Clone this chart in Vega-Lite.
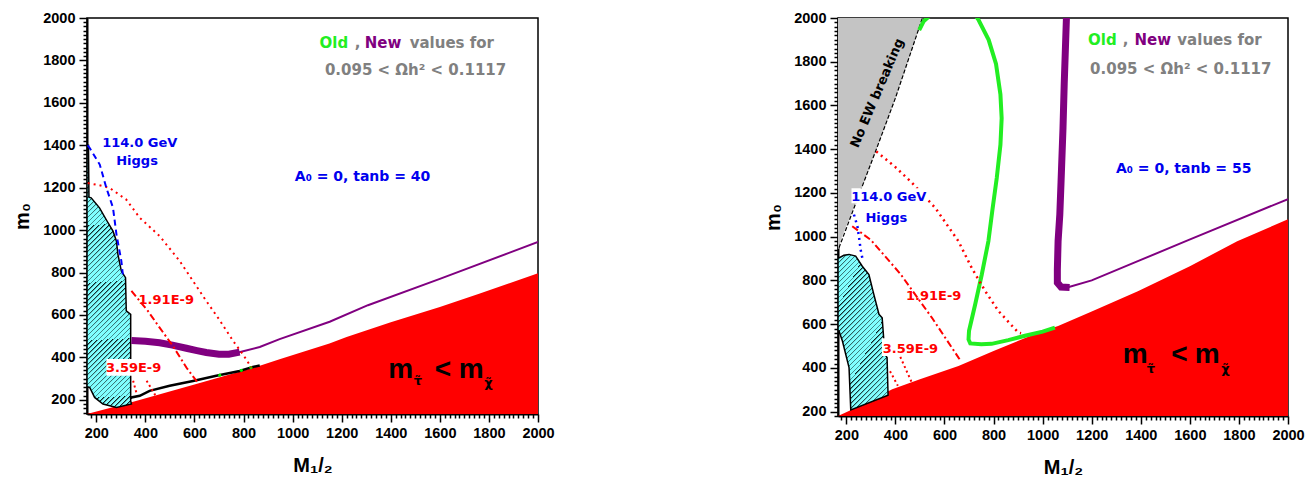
{
"$schema": "https://vega.github.io/schema/vega-lite/v6.json",
"background": "white",
"padding": {"left": 11, "top": 9, "right": 0, "bottom": 0},
"spacing": 207,
"config": {
 "view": {"stroke": "black", "strokeWidth": 1.5},
 "axis": {"grid": false, "labelFont": "Liberation Sans", "labelFontWeight": "bold", "labelFontSize": 14.5, "labelColor": "black", "domainColor": "black", "domainWidth": 2, "tickColor": "black", "tickWidth": 1.5, "labelOverlap": false, "labelFlush": false, "labelBound": false, "titleFont": "Liberation Sans", "titleFontWeight": "bold", "titleFontSize": 20, "titleColor": "black"}
},
"hconcat": [
{
 "width": 451, "height": 396,
 "encoding": {
  "x": {"field": "M", "type": "quantitative", "scale": {"domain": [162, 2000], "nice": false, "zero": false},
   "axis": {"title": "M₁/₂", "format": "d", "tickCount": 92, "labelExpr": "datum.value % 200 === 0 ? datum.label : ''", "tickSize": {"condition": {"test": "datum.value % 200 === 0", "value": 8}, "value": 4}, "labelPadding": 4, "titlePadding": 16}},
  "y": {"field": "m0", "type": "quantitative", "scale": {"domain": [133, 2000], "nice": false, "zero": false},
   "axis": {"title": "m₀", "format": "d", "tickCount": 93, "labelExpr": "datum.value % 200 === 0 ? datum.label : ''", "tickSize": {"condition": {"test": "datum.value % 200 === 0", "value": 8}, "value": 4}, "labelPadding": 4, "titlePadding": 10}}
 },
 "layer": [
  {"data": {"values": [{"M":162,"m0":133},{"M":336,"m0":186},{"M":600,"m0":272},{"M":866,"m0":360},{"M":950,"m0":392},{"M":1150,"m0":465},{"M":1220,"m0":496},{"M":1400,"m0":565},{"M":1600,"m0":638},{"M":1760,"m0":700},{"M":2000,"m0":796}]},
   "mark": {"type": "area", "color": "#ff0000", "clip": true}, "encoding": {"y2": {"datum": 0}}},
  {"data": {"values": [{"M":162,"m0":1400},{"M":168,"m0":1400},{"M":170,"m0":1155},{"M":179,"m0":1152},{"M":213,"m0":1105},{"M":240,"m0":1050},{"M":268,"m0":995},{"M":282,"m0":948},{"M":288,"m0":886},{"M":302,"m0":807},{"M":319,"m0":776},{"M":322,"m0":619},{"M":340,"m0":603},{"M":340,"m0":195},{"M":343,"m0":180},{"M":282,"m0":164},{"M":227,"m0":180},{"M":193,"m0":211},{"M":173,"m0":258},{"M":162,"m0":262}]},
   "mark": {"type": "line", "interpolate": "linear-closed", "stroke": "black", "strokeWidth": 1.5, "clip": true,
    "fill": {"gradient": "linear", "x1": 0, "y1": 0, "x2": 0.19, "y2": 1.14, "stops": [
{"offset":0,"color":"#80ffff"},{"offset":0.01,"color":"#80ffff"},{"offset":0.01,"color":"#0a1a1a"},
{"offset":0.016,"color":"#80ffff"},{"offset":0.026,"color":"#80ffff"},{"offset":0.026,"color":"#0a1a1a"},
{"offset":0.032,"color":"#80ffff"},{"offset":0.042,"color":"#80ffff"},{"offset":0.042,"color":"#0a1a1a"},
{"offset":0.048,"color":"#80ffff"},{"offset":0.058,"color":"#80ffff"},{"offset":0.058,"color":"#0a1a1a"},
{"offset":0.064,"color":"#80ffff"},{"offset":0.074,"color":"#80ffff"},{"offset":0.074,"color":"#0a1a1a"},
{"offset":0.08,"color":"#80ffff"},{"offset":0.09,"color":"#80ffff"},{"offset":0.09,"color":"#0a1a1a"},
{"offset":0.096,"color":"#80ffff"},{"offset":0.106,"color":"#80ffff"},{"offset":0.106,"color":"#0a1a1a"},
{"offset":0.112,"color":"#80ffff"},{"offset":0.122,"color":"#80ffff"},{"offset":0.122,"color":"#0a1a1a"},
{"offset":0.128,"color":"#80ffff"},{"offset":0.138,"color":"#80ffff"},{"offset":0.138,"color":"#0a1a1a"},
{"offset":0.144,"color":"#80ffff"},{"offset":0.154,"color":"#80ffff"},{"offset":0.154,"color":"#0a1a1a"},
{"offset":0.16,"color":"#80ffff"},{"offset":0.17,"color":"#80ffff"},{"offset":0.17,"color":"#0a1a1a"},
{"offset":0.176,"color":"#80ffff"},{"offset":0.186,"color":"#80ffff"},{"offset":0.186,"color":"#0a1a1a"},
{"offset":0.192,"color":"#80ffff"},{"offset":0.202,"color":"#80ffff"},{"offset":0.202,"color":"#0a1a1a"},
{"offset":0.208,"color":"#80ffff"},{"offset":0.218,"color":"#80ffff"},{"offset":0.218,"color":"#0a1a1a"},
{"offset":0.224,"color":"#80ffff"},{"offset":0.234,"color":"#80ffff"},{"offset":0.234,"color":"#0a1a1a"},
{"offset":0.24,"color":"#80ffff"},{"offset":0.25,"color":"#80ffff"},{"offset":0.25,"color":"#0a1a1a"},
{"offset":0.256,"color":"#80ffff"},{"offset":0.266,"color":"#80ffff"},{"offset":0.266,"color":"#0a1a1a"},
{"offset":0.272,"color":"#80ffff"},{"offset":0.282,"color":"#80ffff"},{"offset":0.282,"color":"#0a1a1a"},
{"offset":0.288,"color":"#80ffff"},{"offset":0.298,"color":"#80ffff"},{"offset":0.298,"color":"#0a1a1a"},
{"offset":0.304,"color":"#80ffff"},{"offset":0.314,"color":"#80ffff"},{"offset":0.314,"color":"#0a1a1a"},
{"offset":0.32,"color":"#80ffff"},{"offset":0.33,"color":"#80ffff"},{"offset":0.33,"color":"#0a1a1a"},
{"offset":0.336,"color":"#80ffff"},{"offset":0.346,"color":"#80ffff"},{"offset":0.346,"color":"#0a1a1a"},
{"offset":0.352,"color":"#80ffff"},{"offset":0.362,"color":"#80ffff"},{"offset":0.362,"color":"#0a1a1a"},
{"offset":0.368,"color":"#80ffff"},{"offset":0.378,"color":"#80ffff"},{"offset":0.378,"color":"#0a1a1a"},
{"offset":0.384,"color":"#80ffff"},{"offset":0.394,"color":"#80ffff"},{"offset":0.394,"color":"#0a1a1a"},
{"offset":0.4,"color":"#80ffff"},{"offset":0.41,"color":"#80ffff"},{"offset":0.41,"color":"#0a1a1a"},
{"offset":0.416,"color":"#80ffff"},{"offset":0.426,"color":"#80ffff"},{"offset":0.426,"color":"#0a1a1a"},
{"offset":0.432,"color":"#80ffff"},{"offset":0.442,"color":"#80ffff"},{"offset":0.442,"color":"#0a1a1a"},
{"offset":0.448,"color":"#80ffff"},{"offset":0.458,"color":"#80ffff"},{"offset":0.458,"color":"#0a1a1a"},
{"offset":0.464,"color":"#80ffff"},{"offset":0.474,"color":"#80ffff"},{"offset":0.474,"color":"#0a1a1a"},
{"offset":0.48,"color":"#80ffff"},{"offset":0.49,"color":"#80ffff"},{"offset":0.49,"color":"#0a1a1a"},
{"offset":0.496,"color":"#80ffff"},{"offset":0.506,"color":"#80ffff"},{"offset":0.506,"color":"#0a1a1a"},
{"offset":0.512,"color":"#80ffff"},{"offset":0.522,"color":"#80ffff"},{"offset":0.522,"color":"#0a1a1a"},
{"offset":0.528,"color":"#80ffff"},{"offset":0.538,"color":"#80ffff"},{"offset":0.538,"color":"#0a1a1a"},
{"offset":0.544,"color":"#80ffff"},{"offset":0.554,"color":"#80ffff"},{"offset":0.554,"color":"#0a1a1a"},
{"offset":0.56,"color":"#80ffff"},{"offset":0.57,"color":"#80ffff"},{"offset":0.57,"color":"#0a1a1a"},
{"offset":0.576,"color":"#80ffff"},{"offset":0.586,"color":"#80ffff"},{"offset":0.586,"color":"#0a1a1a"},
{"offset":0.592,"color":"#80ffff"},{"offset":0.602,"color":"#80ffff"},{"offset":0.602,"color":"#0a1a1a"},
{"offset":0.608,"color":"#80ffff"},{"offset":0.618,"color":"#80ffff"},{"offset":0.618,"color":"#0a1a1a"},
{"offset":0.624,"color":"#80ffff"},{"offset":0.634,"color":"#80ffff"},{"offset":0.634,"color":"#0a1a1a"},
{"offset":0.64,"color":"#80ffff"},{"offset":0.65,"color":"#80ffff"},{"offset":0.65,"color":"#0a1a1a"},
{"offset":0.656,"color":"#80ffff"},{"offset":0.666,"color":"#80ffff"},{"offset":0.666,"color":"#0a1a1a"},
{"offset":0.672,"color":"#80ffff"},{"offset":0.682,"color":"#80ffff"},{"offset":0.682,"color":"#0a1a1a"},
{"offset":0.688,"color":"#80ffff"},{"offset":0.698,"color":"#80ffff"},{"offset":0.698,"color":"#0a1a1a"},
{"offset":0.704,"color":"#80ffff"},{"offset":0.714,"color":"#80ffff"},{"offset":0.714,"color":"#0a1a1a"},
{"offset":0.72,"color":"#80ffff"},{"offset":0.73,"color":"#80ffff"},{"offset":0.73,"color":"#0a1a1a"},
{"offset":0.736,"color":"#80ffff"},{"offset":0.746,"color":"#80ffff"},{"offset":0.746,"color":"#0a1a1a"},
{"offset":0.752,"color":"#80ffff"},{"offset":0.762,"color":"#80ffff"},{"offset":0.762,"color":"#0a1a1a"},
{"offset":0.768,"color":"#80ffff"},{"offset":0.778,"color":"#80ffff"},{"offset":0.778,"color":"#0a1a1a"},
{"offset":0.784,"color":"#80ffff"},{"offset":0.794,"color":"#80ffff"},{"offset":0.794,"color":"#0a1a1a"},
{"offset":0.8,"color":"#80ffff"},{"offset":0.81,"color":"#80ffff"},{"offset":0.81,"color":"#0a1a1a"},
{"offset":0.816,"color":"#80ffff"},{"offset":0.826,"color":"#80ffff"},{"offset":0.826,"color":"#0a1a1a"},
{"offset":0.832,"color":"#80ffff"},{"offset":0.842,"color":"#80ffff"},{"offset":0.842,"color":"#0a1a1a"},
{"offset":0.848,"color":"#80ffff"},{"offset":0.858,"color":"#80ffff"},{"offset":0.858,"color":"#0a1a1a"},
{"offset":0.864,"color":"#80ffff"},{"offset":0.874,"color":"#80ffff"},{"offset":0.874,"color":"#0a1a1a"},
{"offset":0.88,"color":"#80ffff"},{"offset":0.89,"color":"#80ffff"},{"offset":0.89,"color":"#0a1a1a"},
{"offset":0.896,"color":"#80ffff"},{"offset":0.906,"color":"#80ffff"},{"offset":0.906,"color":"#0a1a1a"},
{"offset":0.912,"color":"#80ffff"},{"offset":0.922,"color":"#80ffff"},{"offset":0.922,"color":"#0a1a1a"},
{"offset":0.928,"color":"#80ffff"},{"offset":0.938,"color":"#80ffff"},{"offset":0.938,"color":"#0a1a1a"},
{"offset":0.944,"color":"#80ffff"},{"offset":0.954,"color":"#80ffff"},{"offset":0.954,"color":"#0a1a1a"},
{"offset":0.96,"color":"#80ffff"},{"offset":0.97,"color":"#80ffff"},{"offset":0.97,"color":"#0a1a1a"},
{"offset":0.976,"color":"#80ffff"},{"offset":0.986,"color":"#80ffff"},{"offset":0.986,"color":"#0a1a1a"},
{"offset":0.992,"color":"#80ffff"},{"offset":1,"color":"#80ffff"}
    ]}},
   "encoding": {"order": {"value": null}}},
  {"data": {"values": [{"M":340,"m0":205},{"M":343,"m0":211},{"M":377,"m0":219},{"M":417,"m0":242},{"M":499,"m0":266},{"M":594,"m0":289},{"M":689,"m0":313},{"M":784,"m0":336},{"M":838,"m0":355},{"M":866,"m0":362}]},
   "mark": {"type": "line", "color": "black", "strokeWidth": 2.5, "clip": true}},
  {"data": {"values": [{"M":703,"m0":316},{"M":791,"m0":339},{"M":830,"m0":352}]},
   "mark": {"type": "point", "filled": true, "color": "#00ee00", "size": 10, "opacity": 1}},
  {"data": {"values": [{"M":343,"m0":480},{"M":400,"m0":476},{"M":458,"m0":469},{"M":510,"m0":458},{"M":567,"m0":443},{"M":610,"m0":432},{"M":648,"m0":423},{"M":700,"m0":415},{"M":740,"m0":415},{"M":784,"m0":425}]},
   "mark": {"type": "line", "color": "#800080", "strokeWidth": 7, "clip": true}},
  {"data": {"values": [{"M":770,"m0":421},{"M":866,"m0":449},{"M":947,"m0":486},{"M":1151,"m0":568},{"M":1307,"m0":646},{"M":1600,"m0":770},{"M":2000,"m0":944}]},
   "mark": {"type": "line", "color": "#800080", "strokeWidth": 2, "clip": true}},
  {"data": {"values": [{"M":165,"m0":1222},{"M":210,"m0":1212},{"M":254,"m0":1199},{"M":322,"m0":1144},{"M":377,"m0":1058},{"M":458,"m0":972},{"M":540,"m0":854},{"M":648,"m0":666},{"M":700,"m0":580},{"M":757,"m0":478},{"M":800,"m0":410},{"M":832,"m0":352}]},
   "mark": {"type": "line", "color": "#ff0000", "strokeWidth": 2, "strokeDash": [2, 4], "clip": true}},
  {"data": {"values": [{"M":343,"m0":713},{"M":410,"m0":619},{"M":458,"m0":540},{"M":512,"m0":454},{"M":567,"m0":352},{"M":608,"m0":289},{"M":620,"m0":275}]},
   "mark": {"type": "line", "color": "#ff0000", "strokeWidth": 2, "strokeDash": [7, 3, 2, 3], "clip": true}},
  {"data": {"values": [{"seg":"a","M":350,"m0":290},{"seg":"a","M":365,"m0":225},{"seg":"b","M":405,"m0":290},{"seg":"b","M":440,"m0":222}]},
   "mark": {"type": "line", "color": "#ff0000", "strokeWidth": 2, "strokeDash": [2, 3], "clip": true},
   "encoding": {"detail": {"field": "seg"}}},
  {"data": {"values": [{"M":165,"m0":1400},{"M":173,"m0":1387},{"M":214,"m0":1309},{"M":241,"m0":1199},{"M":268,"m0":1105},{"M":282,"m0":980},{"M":302,"m0":854},{"M":308,"m0":791}]},
   "mark": {"type": "line", "color": "#0000ff", "strokeWidth": 2, "strokeDash": [6, 4], "clip": true}},
  {"data": {"values": [{"M":241,"M2":458,"m0":313,"m02":392}]},
   "mark": {"type": "rect", "color": "white"},
   "encoding": {"x2": {"field": "M2"}, "y2": {"field": "m02"}}},
  {"data": {"values": [{"M":1110,"m0":1858,"t":"Old"}]},
   "mark": {"type": "text", "align": "left", "baseline": "alphabetic", "font": "DejaVu Sans", "fontWeight": "bold", "fontSize": 15, "color": "#22ee22"},
   "encoding": {"text": {"field": "t"}}},
  {"data": {"values": [{"M":1294,"m0":1858,"t":"New"}]},
   "mark": {"type": "text", "align": "left", "baseline": "alphabetic", "font": "DejaVu Sans", "fontWeight": "bold", "fontSize": 15, "color": "#800080"},
   "encoding": {"text": {"field": "t"}}},
  {"data": {"values": [{"M":1253,"m0":1858,"t":","},{"M":1477,"m0":1858,"t":"values for"}]},
   "mark": {"type": "text", "align": "left", "baseline": "alphabetic", "font": "DejaVu Sans", "fontWeight": "bold", "fontSize": 15, "color": "#808080"},
   "encoding": {"text": {"field": "t"}}},
  {"data": {"values": [{"M":1501,"m0":1729,"t":"0.095 <  Ωh² < 0.1117"}]},
   "mark": {"type": "text", "align": "center", "baseline": "alphabetic", "font": "DejaVu Sans", "fontWeight": "bold", "fontSize": 15, "color": "#808080"},
   "encoding": {"text": {"field": "t"}}},
  {"data": {"values": [{"M":1285,"m0":1231,"t":"A₀ = 0, tanb = 40"}]},
   "mark": {"type": "text", "align": "center", "baseline": "alphabetic", "font": "DejaVu Sans", "fontWeight": "bold", "fontSize": 14, "color": "#0000ee"},
   "encoding": {"text": {"field": "t"}}},
  {"data": {"values": [{"M":377,"m0":1392,"t":"114.0 GeV"},{"M":366,"m0":1306,"t":"Higgs"}]},
   "mark": {"type": "text", "align": "center", "baseline": "alphabetic", "font": "DejaVu Sans", "fontWeight": "bold", "fontSize": 13, "color": "#0000ee"},
   "encoding": {"text": {"field": "t"}}},
  {"data": {"values": [{"M":485,"m0":650,"t":"1.91E-9"},{"M":352,"m0":332,"t":"3.59E-9"}]},
   "mark": {"type": "text", "align": "center", "baseline": "alphabetic", "font": "DejaVu Sans", "fontWeight": "bold", "fontSize": 13, "color": "#ff0000"},
   "encoding": {"text": {"field": "t"}}},
  {"data": {"values": [{"M":1440,"m0":305,"t":"m"},{"M":1613,"m0":305,"t":"<"},{"M":1728,"m0":305,"t":"m"}]},
   "mark": {"type": "text", "align": "center", "baseline": "alphabetic", "font": "Liberation Sans", "fontWeight": "bold", "fontSize": 28, "color": "black"},
   "encoding": {"text": {"field": "t"}}},
  {"data": {"values": [{"M":1510,"m0":268,"t":"τ̃"},{"M":1798,"m0":262,"t":"χ̃"}]},
   "mark": {"type": "text", "align": "center", "baseline": "alphabetic", "font": "DejaVu Sans", "fontWeight": "bold", "fontSize": 13, "color": "black"},
   "encoding": {"text": {"field": "t"}}}
 ]
},
{
 "width": 450, "height": 398,
 "encoding": {
  "x": {"field": "M", "type": "quantitative", "scale": {"domain": [166, 2000], "nice": false, "zero": false},
   "axis": {"title": "M₁/₂", "format": "d", "tickCount": 92, "labelExpr": "datum.value % 200 === 0 ? datum.label : ''", "tickSize": {"condition": {"test": "datum.value % 200 === 0", "value": 8}, "value": 4}, "labelPadding": 4, "titlePadding": 16}},
  "y": {"field": "m0", "type": "quantitative", "scale": {"domain": [180, 2000], "nice": false, "zero": false},
   "axis": {"title": "m₀", "format": "d", "tickCount": 91, "labelExpr": "datum.value % 200 === 0 ? datum.label : ''", "tickSize": {"condition": {"test": "datum.value % 200 === 0", "value": 8}, "value": 4}, "labelPadding": 4, "titlePadding": 10}}
 },
 "layer": [
  {"data": {"values": [{"M":166,"m0":180},{"M":250,"m0":224},{"M":387,"m0":302},{"M":500,"m0":348},{"M":657,"m0":409},{"M":800,"m0":477},{"M":981,"m0":561},{"M":1063,"m0":591},{"M":1200,"m0":658},{"M":1388,"m0":751},{"M":1600,"m0":865},{"M":1793,"m0":979},{"M":2000,"m0":1080}]},
   "mark": {"type": "area", "color": "#ff0000", "clip": true}, "encoding": {"y2": {"datum": 0}}},
  {"data": {"values": [{"M":166,"m0":2000},{"M":510,"m0":2000},{"M":400,"m0":1634},{"M":319,"m0":1390},{"M":252,"m0":1193},{"M":177,"m0":987},{"M":170,"m0":949},{"M":166,"m0":945}]},
   "mark": {"type": "line", "interpolate": "linear-closed", "fill": "#c4c4c4", "stroke": "#c4c4c4", "strokeWidth": 0.5, "clip": true},
   "encoding": {"order": {"value": null}}},
  {"data": {"values": [{"M":170,"m0":949},{"M":252,"m0":1193},{"M":319,"m0":1390},{"M":400,"m0":1634},{"M":510,"m0":2000}]},
   "mark": {"type": "line", "color": "black", "strokeWidth": 1.2, "strokeDash": [4, 2], "clip": true}},
  {"data": {"values": [{"M":166,"m0":905},{"M":170,"m0":903},{"M":190,"m0":915},{"M":211,"m0":919},{"M":238,"m0":911},{"M":265,"m0":865},{"M":292,"m0":827},{"M":312,"m0":736},{"M":333,"m0":645},{"M":346,"m0":629},{"M":357,"m0":462},{"M":366,"m0":447},{"M":370,"m0":275},{"M":218,"m0":208},{"M":211,"m0":401},{"M":184,"m0":523},{"M":170,"m0":569},{"M":166,"m0":569}]},
   "mark": {"type": "line", "interpolate": "linear-closed", "stroke": "black", "strokeWidth": 1.5, "clip": true,
    "fill": {"gradient": "linear", "x1": 0, "y1": 0, "x2": 0.39, "y2": 1.2, "stops": [
{"offset":0,"color":"#80ffff"},{"offset":0.015,"color":"#80ffff"},{"offset":0.015,"color":"#0a1a1a"},
{"offset":0.024,"color":"#80ffff"},{"offset":0.039,"color":"#80ffff"},{"offset":0.039,"color":"#0a1a1a"},
{"offset":0.048,"color":"#80ffff"},{"offset":0.063,"color":"#80ffff"},{"offset":0.063,"color":"#0a1a1a"},
{"offset":0.072,"color":"#80ffff"},{"offset":0.087,"color":"#80ffff"},{"offset":0.087,"color":"#0a1a1a"},
{"offset":0.096,"color":"#80ffff"},{"offset":0.111,"color":"#80ffff"},{"offset":0.111,"color":"#0a1a1a"},
{"offset":0.12,"color":"#80ffff"},{"offset":0.135,"color":"#80ffff"},{"offset":0.135,"color":"#0a1a1a"},
{"offset":0.144,"color":"#80ffff"},{"offset":0.159,"color":"#80ffff"},{"offset":0.159,"color":"#0a1a1a"},
{"offset":0.168,"color":"#80ffff"},{"offset":0.183,"color":"#80ffff"},{"offset":0.183,"color":"#0a1a1a"},
{"offset":0.192,"color":"#80ffff"},{"offset":0.207,"color":"#80ffff"},{"offset":0.207,"color":"#0a1a1a"},
{"offset":0.216,"color":"#80ffff"},{"offset":0.231,"color":"#80ffff"},{"offset":0.231,"color":"#0a1a1a"},
{"offset":0.24,"color":"#80ffff"},{"offset":0.255,"color":"#80ffff"},{"offset":0.255,"color":"#0a1a1a"},
{"offset":0.264,"color":"#80ffff"},{"offset":0.279,"color":"#80ffff"},{"offset":0.279,"color":"#0a1a1a"},
{"offset":0.288,"color":"#80ffff"},{"offset":0.303,"color":"#80ffff"},{"offset":0.303,"color":"#0a1a1a"},
{"offset":0.312,"color":"#80ffff"},{"offset":0.327,"color":"#80ffff"},{"offset":0.327,"color":"#0a1a1a"},
{"offset":0.336,"color":"#80ffff"},{"offset":0.351,"color":"#80ffff"},{"offset":0.351,"color":"#0a1a1a"},
{"offset":0.36,"color":"#80ffff"},{"offset":0.375,"color":"#80ffff"},{"offset":0.375,"color":"#0a1a1a"},
{"offset":0.384,"color":"#80ffff"},{"offset":0.399,"color":"#80ffff"},{"offset":0.399,"color":"#0a1a1a"},
{"offset":0.408,"color":"#80ffff"},{"offset":0.423,"color":"#80ffff"},{"offset":0.423,"color":"#0a1a1a"},
{"offset":0.432,"color":"#80ffff"},{"offset":0.447,"color":"#80ffff"},{"offset":0.447,"color":"#0a1a1a"},
{"offset":0.456,"color":"#80ffff"},{"offset":0.471,"color":"#80ffff"},{"offset":0.471,"color":"#0a1a1a"},
{"offset":0.48,"color":"#80ffff"},{"offset":0.495,"color":"#80ffff"},{"offset":0.495,"color":"#0a1a1a"},
{"offset":0.504,"color":"#80ffff"},{"offset":0.519,"color":"#80ffff"},{"offset":0.519,"color":"#0a1a1a"},
{"offset":0.528,"color":"#80ffff"},{"offset":0.543,"color":"#80ffff"},{"offset":0.543,"color":"#0a1a1a"},
{"offset":0.552,"color":"#80ffff"},{"offset":0.567,"color":"#80ffff"},{"offset":0.567,"color":"#0a1a1a"},
{"offset":0.576,"color":"#80ffff"},{"offset":0.591,"color":"#80ffff"},{"offset":0.591,"color":"#0a1a1a"},
{"offset":0.6,"color":"#80ffff"},{"offset":0.615,"color":"#80ffff"},{"offset":0.615,"color":"#0a1a1a"},
{"offset":0.624,"color":"#80ffff"},{"offset":0.639,"color":"#80ffff"},{"offset":0.639,"color":"#0a1a1a"},
{"offset":0.648,"color":"#80ffff"},{"offset":0.663,"color":"#80ffff"},{"offset":0.663,"color":"#0a1a1a"},
{"offset":0.672,"color":"#80ffff"},{"offset":0.687,"color":"#80ffff"},{"offset":0.687,"color":"#0a1a1a"},
{"offset":0.696,"color":"#80ffff"},{"offset":0.711,"color":"#80ffff"},{"offset":0.711,"color":"#0a1a1a"},
{"offset":0.72,"color":"#80ffff"},{"offset":0.735,"color":"#80ffff"},{"offset":0.735,"color":"#0a1a1a"},
{"offset":0.744,"color":"#80ffff"},{"offset":0.759,"color":"#80ffff"},{"offset":0.759,"color":"#0a1a1a"},
{"offset":0.768,"color":"#80ffff"},{"offset":0.783,"color":"#80ffff"},{"offset":0.783,"color":"#0a1a1a"},
{"offset":0.792,"color":"#80ffff"},{"offset":0.807,"color":"#80ffff"},{"offset":0.807,"color":"#0a1a1a"},
{"offset":0.816,"color":"#80ffff"},{"offset":0.831,"color":"#80ffff"},{"offset":0.831,"color":"#0a1a1a"},
{"offset":0.84,"color":"#80ffff"},{"offset":0.855,"color":"#80ffff"},{"offset":0.855,"color":"#0a1a1a"},
{"offset":0.864,"color":"#80ffff"},{"offset":0.879,"color":"#80ffff"},{"offset":0.879,"color":"#0a1a1a"},
{"offset":0.888,"color":"#80ffff"},{"offset":0.903,"color":"#80ffff"},{"offset":0.903,"color":"#0a1a1a"},
{"offset":0.912,"color":"#80ffff"},{"offset":0.927,"color":"#80ffff"},{"offset":0.927,"color":"#0a1a1a"},
{"offset":0.936,"color":"#80ffff"},{"offset":0.951,"color":"#80ffff"},{"offset":0.951,"color":"#0a1a1a"},
{"offset":0.96,"color":"#80ffff"},{"offset":0.975,"color":"#80ffff"},{"offset":0.975,"color":"#0a1a1a"},
{"offset":0.984,"color":"#80ffff"},{"offset":1,"color":"#80ffff"}
    ]}},
   "encoding": {"order": {"value": null}}},
  {"data": {"values": [{"M":497,"m0":1945},{"M":515,"m0":1985},{"M":540,"m0":2010},{"M":640,"m0":2100},{"M":720,"m0":2020},{"M":738,"m0":1993},{"M":780,"m0":1900},{"M":810,"m0":1790},{"M":828,"m0":1650},{"M":833,"m0":1542},{"M":828,"m0":1420},{"M":813,"m0":1268},{"M":795,"m0":1120},{"M":779,"m0":980},{"M":752,"m0":827},{"M":725,"m0":690},{"M":700,"m0":570},{"M":698,"m0":530},{"M":705,"m0":512},{"M":750,"m0":508},{"M":792,"m0":510},{"M":860,"m0":527},{"M":928,"m0":547},{"M":1000,"m0":566},{"M":1050,"m0":584}]},
   "mark": {"type": "line", "color": "#22ee22", "strokeWidth": 4, "clip": true},
   "encoding": {"order": {"value": null}}},
  {"data": {"values": [{"M":1097,"m0":2000},{"M":1088,"m0":1700},{"M":1083,"m0":1497},{"M":1075,"m0":1250},{"M":1070,"m0":1101},{"M":1063,"m0":979},{"M":1060,"m0":850},{"M":1060,"m0":790},{"M":1075,"m0":770},{"M":1110,"m0":768}]},
   "mark": {"type": "line", "color": "#800080", "strokeWidth": 7, "clip": true},
   "encoding": {"order": {"value": null}}},
  {"data": {"values": [{"M":1100,"m0":768},{"M":1200,"m0":800},{"M":1388,"m0":888},{"M":1591,"m0":983},{"M":2000,"m0":1172}]},
   "mark": {"type": "line", "color": "#800080", "strokeWidth": 2, "clip": true}},
  {"data": {"values": [{"M":322,"m0":1390},{"M":400,"m0":1318},{"M":468,"m0":1246},{"M":563,"m0":1131},{"M":657,"m0":979},{"M":711,"m0":857},{"M":766,"m0":751},{"M":820,"m0":660},{"M":901,"m0":561},{"M":912,"m0":558}]},
   "mark": {"type": "line", "color": "#ff0000", "strokeWidth": 2.5, "strokeDash": [2, 4], "clip": true},
   "encoding": {"order": {"value": null}}},
  {"data": {"values": [{"M":224,"m0":1048},{"M":300,"m0":985},{"M":420,"m0":830},{"M":549,"m0":629},{"M":657,"m0":447},{"M":668,"m0":430}]},
   "mark": {"type": "line", "color": "#ff0000", "strokeWidth": 2, "strokeDash": [7, 3, 2, 3], "clip": true}},
  {"data": {"values": [{"seg":"a","M":378,"m0":385},{"seg":"a","M":410,"m0":318},{"seg":"b","M":420,"m0":450},{"seg":"b","M":468,"m0":330}]},
   "mark": {"type": "line", "color": "#ff0000", "strokeWidth": 2, "strokeDash": [2, 3], "clip": true},
   "encoding": {"detail": {"field": "seg"}}},
  {"data": {"values": [{"M":231,"m0":1101},{"M":245,"m0":1048},{"M":252,"m0":995},{"M":258,"m0":942},{"M":265,"m0":903}]},
   "mark": {"type": "line", "color": "#0000ff", "strokeWidth": 2.5, "strokeDash": [2, 4], "clip": true}},
  {"data": {"values": [{"M":221,"M2":529,"m0":1153,"m02":1221},{"M":345,"M2":576,"m0":454,"m02":536}]},
   "mark": {"type": "rect", "color": "white"},
   "encoding": {"x2": {"field": "M2"}, "y2": {"field": "m02"}}},
  {"data": {"values": [{"M":1185,"m0":1877,"t":"Old"}]},
   "mark": {"type": "text", "align": "left", "baseline": "alphabetic", "font": "DejaVu Sans", "fontWeight": "bold", "fontSize": 15, "color": "#22ee22"},
   "encoding": {"text": {"field": "t"}}},
  {"data": {"values": [{"M":1374,"m0":1877,"t":"New"}]},
   "mark": {"type": "text", "align": "left", "baseline": "alphabetic", "font": "DejaVu Sans", "fontWeight": "bold", "fontSize": 15, "color": "#800080"},
   "encoding": {"text": {"field": "t"}}},
  {"data": {"values": [{"M":1327,"m0":1877,"t":","},{"M":1549,"m0":1877,"t":"values for"}]},
   "mark": {"type": "text", "align": "left", "baseline": "alphabetic", "font": "DejaVu Sans", "fontWeight": "bold", "fontSize": 15, "color": "#808080"},
   "encoding": {"text": {"field": "t"}}},
  {"data": {"values": [{"M":1563,"m0":1743,"t":"0.095 <  Ωh² < 0.1117"}]},
   "mark": {"type": "text", "align": "center", "baseline": "alphabetic", "font": "DejaVu Sans", "fontWeight": "bold", "fontSize": 15, "color": "#808080"},
   "encoding": {"text": {"field": "t"}}},
  {"data": {"values": [{"M":1575,"m0":1291,"t":"A₀ = 0, tanb = 55"}]},
   "mark": {"type": "text", "align": "center", "baseline": "alphabetic", "font": "DejaVu Sans", "fontWeight": "bold", "fontSize": 14, "color": "#0000ee"},
   "encoding": {"text": {"field": "t"}}},
  {"data": {"values": [{"M":373,"m0":1162,"t":"114.0 GeV"},{"M":363,"m0":1066,"t":"Higgs"}]},
   "mark": {"type": "text", "align": "center", "baseline": "alphabetic", "font": "DejaVu Sans", "fontWeight": "bold", "fontSize": 13, "color": "#0000ee"},
   "encoding": {"text": {"field": "t"}}},
  {"data": {"values": [{"M":556,"m0":709,"t":"1.91E-9"},{"M":461,"m0":469,"t":"3.59E-9"}]},
   "mark": {"type": "text", "align": "center", "baseline": "alphabetic", "font": "DejaVu Sans", "fontWeight": "bold", "fontSize": 13, "color": "#ff0000"},
   "encoding": {"text": {"field": "t"}}},
  {"data": {"values": [{"M":326,"m0":1657,"t":"No EW breaking"}]},
   "mark": {"type": "text", "align": "center", "baseline": "middle", "angle": 293, "font": "DejaVu Sans", "fontWeight": "bold", "fontSize": 13, "color": "black"},
   "encoding": {"text": {"field": "t"}}},
  {"data": {"values": [{"M":1377,"m0":424,"t":"m"},{"M":1557,"m0":424,"t":"<"},{"M":1671,"m0":424,"t":"m"}]},
   "mark": {"type": "text", "align": "center", "baseline": "alphabetic", "font": "Liberation Sans", "fontWeight": "bold", "fontSize": 28, "color": "black"},
   "encoding": {"text": {"field": "t"}}},
  {"data": {"values": [{"M":1441,"m0":377,"t":"τ̃"},{"M":1745,"m0":377,"t":"χ̃"}]},
   "mark": {"type": "text", "align": "center", "baseline": "alphabetic", "font": "DejaVu Sans", "fontWeight": "bold", "fontSize": 13, "color": "black"},
   "encoding": {"text": {"field": "t"}}}
 ]
}
]
}
